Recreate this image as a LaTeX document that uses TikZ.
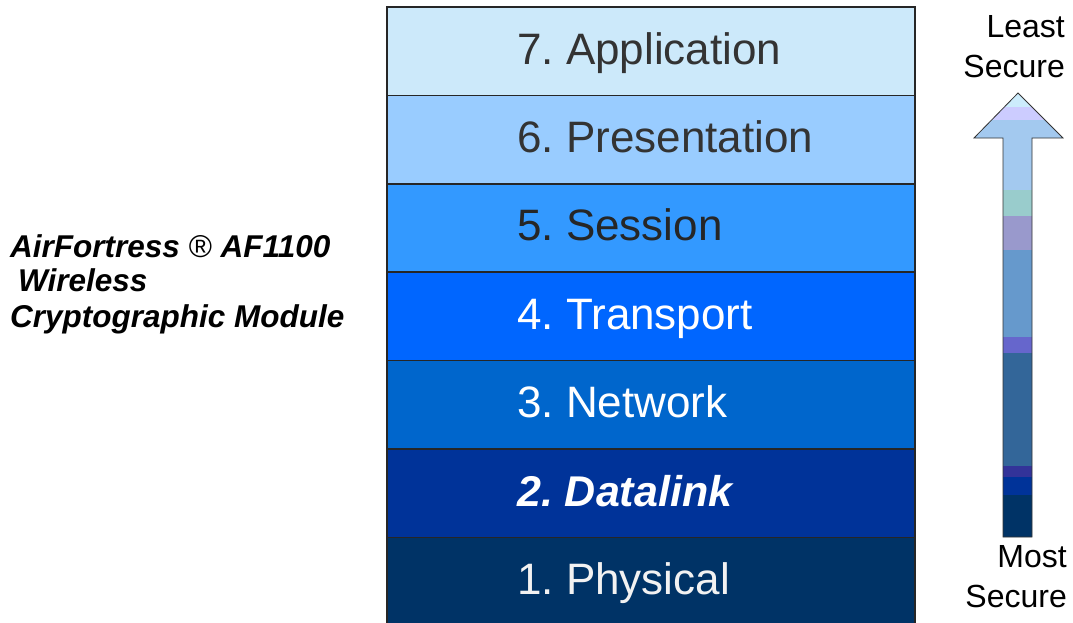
\documentclass[tikz,border=0pt]{standalone}
\usepackage{fontspec}
\setmainfont{Liberation Sans}
\usetikzlibrary{positioning}
\frenchspacing

\definecolor{appl}{HTML}{CCE9FA}
\definecolor{pres}{HTML}{99CCFF}
\definecolor{sess}{HTML}{3399FF}
\definecolor{trans}{HTML}{0066FF}
\definecolor{netw}{HTML}{0066CC}
\definecolor{dlink}{HTML}{003399}
\definecolor{phys}{HTML}{003366}
\definecolor{darktxt}{HTML}{333333}

\tikzset{
  layer/.style={draw=black!85, line width=1.5pt, outer sep=0pt, minimum width=528pt, minimum height=88.4pt, inner sep=0pt},
  layername/.style={anchor=base west, inner sep=0pt, font=\fontsize{44}{44}\selectfont},
  modname/.style={anchor=base west, inner sep=0pt, font=\fontsize{31.5}{32}\selectfont\bfseries\itshape},
  securetxt/.style={align=right, inner sep=0pt, font=\fontsize{32}{40}\selectfont}
}

\begin{document}
\begin{tikzpicture}[x=1pt,y=-1pt]
   \useasboundingbox (0,0) rectangle (1073,622);
   \fill[white] (0,0) rectangle (1073,622);

   % the seven layers
   \node[layer, fill=appl, anchor=north west] (l7) at (387,7) {};
   \node[layer, fill=pres, below=0pt of l7] (l6) {};
   \node[layer, fill=sess, below=0pt of l6] (l5) {};
   \node[layer, fill=trans, below=0pt of l5] (l4) {};
   \node[layer, fill=netw, below=0pt of l4] (l3) {};
   \node[layer, fill=dlink, below=0pt of l3] (l2) {};
   \node[layer, fill=phys, below=0pt of l2] (l1) {};

   \node[layername, text=darktxt] (n7) at ([xshift=130pt,yshift=-57pt]l7.north west) {7. Application};
   \node[layername, text=darktxt] (n6) at ([xshift=130pt,yshift=-57pt]l6.north west) {6. Presentation};
   \node[layername, text=black!85] (n5) at ([xshift=130pt,yshift=-57pt]l5.north west) {5. Session};
   \node[layername, text=white] (n4) at ([xshift=130pt,yshift=-57pt]l4.north west) {4. Transport};
   \node[layername, text=white] (n3) at ([xshift=130pt,yshift=-57pt]l3.north west) {3. Network};
   \node[layername, text=white, font=\fontsize{43}{43}\selectfont\bfseries\itshape] (n2) at ([xshift=130pt,yshift=-57pt]l2.north west) {2. Datalink};
   \node[layername, text=black!5] (n1) at ([xshift=130pt,yshift=-57pt]l1.north west) {1. Physical};

   % module name
   \node[modname] (mod1) at (10,257) {AirFortress {\mdseries\upshape ®} AF1100};
   \node[modname] (mod2) at (18,291) {Wireless};
   \node[modname] (mod3) at (10,327) {Cryptographic Module};

   % security arrow
   \begin{scope}
      \clip (1003,537) -- (1003,138) -- (974,138) -- (1018,93) -- (1063,138) -- (1032,138) -- (1032,537) -- cycle;
      \fill[fill={rgb,255:red,204;green,236;blue,252}] (970,90) rectangle (1066,107);
      \fill[fill={rgb,255:red,204;green,204;blue,255}] (970,107) rectangle (1066,120);
      \fill[fill={rgb,255:red,163;green,201;blue,239}] (970,120) rectangle (1066,190);
      \fill[fill={rgb,255:red,153;green,204;blue,204}] (970,190) rectangle (1066,216);
      \fill[fill={rgb,255:red,153;green,153;blue,204}] (970,216) rectangle (1066,250);
      \fill[fill={rgb,255:red,102;green,153;blue,204}] (970,250) rectangle (1066,337);
      \fill[fill={rgb,255:red,102;green,102;blue,204}] (970,337) rectangle (1066,353);
      \fill[fill={rgb,255:red,51;green,102;blue,153}] (970,353) rectangle (1066,466);
      \fill[fill={rgb,255:red,51;green,51;blue,153}] (970,466) rectangle (1066,477);
      \fill[fill=dlink] (970,477) rectangle (1066,495);
      \fill[fill=phys] (970,495) rectangle (1066,540);
   \end{scope}
   \draw[black!80, line width=0.8pt, line join=miter] (1003,537) -- (1003,138) -- (974,138) -- (1018,93) -- (1063,138) -- (1032,138) -- (1032,537) -- cycle;

   \node[securetxt, anchor=north east] (least) at (1065,15) {Least\\Secure};
   \node[securetxt, anchor=north east] (most) at (1067,545) {Most\\Secure};
\end{tikzpicture}
\end{document}
